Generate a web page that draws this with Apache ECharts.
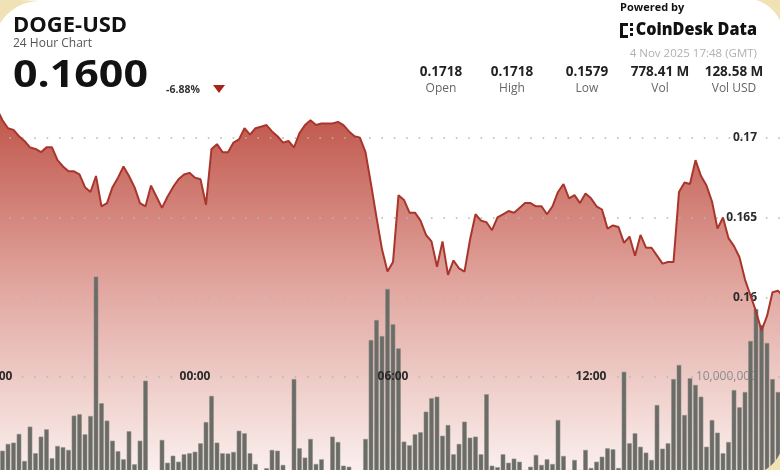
<!DOCTYPE html>
<html><head><meta charset="utf-8">
<script src="https://cdn.jsdelivr.net/npm/echarts@6/dist/echarts.min.js"></script>
<style>html,body{margin:0;padding:0;background:#fff}#c{width:780px;height:470px}</style>
</head><body><div id="c"></div>
<script>
// ---- data ----
const tickLabels = ['18:00', '00:00', '06:00', '12:00', '18:00'];
const STEP_MIN = 10; // one sample every 10 minutes, starting 18:00 (3 Nov 2025)
const prices = [
0.1718,0.1711,0.1706,0.1705,0.1701,0.1698,0.1694,0.1693,0.1691,0.1694,
0.1694,0.1686,0.1682,0.1679,0.1679,0.1677,0.1669,0.1666,0.1676,0.1657,
0.1659,0.1669,0.1675,0.1682,0.1676,0.1669,0.1659,0.1657,0.1670,0.1663,
0.1656,0.1663,0.1669,0.1674,0.1677,0.1678,0.1675,0.1674,0.1658,0.1693,
0.1696,0.1691,0.1691,0.1697,0.1699,0.1706,0.1702,0.1706,0.1707,0.1708,
0.1704,0.1701,0.1697,0.1698,0.1694,0.1703,0.1708,0.1711,0.1708,0.1709,
0.1709,0.1709,0.1710,0.1708,0.1704,0.1701,0.1700,0.1691,0.1671,0.1650,
0.1630,0.1616,0.1622,0.1664,0.1661,0.1653,0.1653,0.1648,0.1639,0.1635,
0.1619,0.1635,0.1614,0.1623,0.1618,0.1616,0.1636,0.1652,0.1648,0.1647,
0.1642,0.1650,0.1652,0.1654,0.1653,0.1656,0.1659,0.1659,0.1657,0.1657,
0.1652,0.1657,0.1666,0.1671,0.1662,0.1664,0.1659,0.1665,0.1662,0.1657,
0.1655,0.1643,0.1645,0.1644,0.1634,0.1638,0.1626,0.1639,0.1631,0.1631,
0.1626,0.1621,0.1622,0.1622,0.1666,0.1672,0.1671,0.1686,0.1676,0.1670,
0.1660,0.1643,0.1650,0.1637,0.1632,0.1625,0.1611,0.1601,0.1591,0.1579,
0.1588,0.1603,0.1604,0.1600
];
// volume per 10-minute bar, in millions of DOGE
const volumesM = [
2.89,4.24,4.77,4.87,5.55,3.44,6.12,4.04,5.34,5.91,
3.65,4.61,4.51,4.30,6.98,7.09,5.52,6.95,17.84,7.95,
6.59,5.02,4.20,3.57,5.76,3.18,5.02,9.71,2.45,2.52,
5.08,3.30,3.85,3.38,3.96,4.04,4.16,4.82,6.48,8.52,
4.87,4.04,4.02,4.14,5.80,5.60,4.04,3.20,2.55,2.87,
4.30,4.24,3.13,2.50,9.84,4.43,3.70,5.16,3.20,3.57,
2.48,5.34,4.92,3.07,2.99,2.53,2.44,5.16,12.89,14.45,
13.20,16.88,14.12,12.24,4.95,4.66,5.52,5.68,7.29,8.34,
8.46,5.41,6.25,3.96,4.77,6.51,5.26,5.34,3.96,8.65,
3.07,2.95,3.96,3.30,3.62,3.38,2.73,2.99,3.91,3.13,
3.57,3.20,6.64,3.83,2.73,3.52,2.73,4.30,2.89,3.38,
3.77,4.43,4.35,2.89,10.41,4.82,5.60,4.55,4.09,3.52,
7.81,4.40,4.82,9.84,10.94,7.03,9.90,9.38,8.46,4.55,
6.64,5.65,4.04,4.92,8.98,7.63,8.83,12.81,15.31,14.06,
12.66,9.84,8.83
];
const priceLabelTicks = [0.16, 0.165, 0.17];
const volumeLabelTicks = [10];
const statValues = ['0.1718', '0.1718', '0.1579', '778.41 M', '128.58 M'];
const statNames = ['Open', 'High', 'Low', 'Vol', 'Vol USD'];
const symbolName = 'DOGE-USD';
const lastPrice = '0.1600';
const changeText = '-6.88%';
const stampText = '4 Nov 2025 17:48 (GMT)';

// ---- build ----
const priceData = prices.map((p, i) => [i * STEP_MIN, p]);
const volData = volumesM.map((v, i) => [i * STEP_MIN, v]);
const F = "'Open Sans', sans-serif";
const GL = -3, GR = -9; // x-axis spans past both edges (chart is cropped)

function T(text, x, y, size, weight, fill, align, extra) {
  return Object.assign({ type: 'text', z: 50, style: { text, x, y, fontSize: size, fontWeight: weight, fontFamily: F, fill, align: align || 'left', verticalAlign: 'middle' } }, extra || {});
}
// decorative card corner: region between a rounded corner arc and the canvas corner
function corner(cx, cy, r, a0, a1, px, py) {
  const pts = [[px, py]];
  for (let i = 0; i <= 16; i++) {
    const a = (a0 + (a1 - a0) * i / 16) * Math.PI / 180;
    pts.push([cx + r * Math.cos(a), cy + r * Math.sin(a)]);
  }
  return { type: 'polygon', z: 60, silent: true, shape: { points: pts }, style: { fill: '#f1e2b6' } };
}
const statX = [441, 512, 587, 660, 734];
const graphics = [
  T(symbolName, 13, 26, 22, 'bold', '#121212'),
  T('24 Hour Chart', 13, 44, 12, 'normal', '#555'),
  T(lastPrice, 13, 76, 37, 'bold', '#121212', 'left', { scaleX: 1.16, originX: 13, originY: 76 }),
  T(changeText, 166, 90, 10.5, 'bold', '#333'),
  { type: 'polygon', z: 50, shape: { points: [[213, 85], [225, 85], [219, 93]] }, style: { fill: '#a8231b' } },
  T('Powered by', 620, 8, 11, 'bold', '#111'),
  T('CoinDesk Data', 757, 30.5, 17, 800, '#111', 'right', { scaleX: 0.95, originX: 757, originY: 30 }),
  T(stampText, 757, 54, 11.5, 'normal', '#b0b0b0', 'right'),
  // logo mark
  { type: 'rect', z: 50, shape: { x: 620, y: 23, width: 3, height: 15 }, style: { fill: '#111' } },
  { type: 'rect', z: 50, shape: { x: 620, y: 23, width: 8, height: 3 }, style: { fill: '#111' } },
  { type: 'rect', z: 50, shape: { x: 620, y: 35, width: 8, height: 3 }, style: { fill: '#111' } },
  { type: 'rect', z: 50, shape: { x: 630, y: 23, width: 3, height: 3 }, style: { fill: '#111' } },
  { type: 'rect', z: 50, shape: { x: 630, y: 28, width: 3, height: 3 }, style: { fill: '#111' } },
  { type: 'rect', z: 50, shape: { x: 630, y: 33, width: 3, height: 3 }, style: { fill: '#111' } },
  // card corners
  corner(40, 48, 47, 180, 270, -1, -1),
  corner(744, 38, 40, 270, 360, 781, -1),
  corner(744, 436, 40, 0, 90, 781, 471)
];
statValues.forEach((v, i) => {
  graphics.push(T(v, statX[i], 72, 13.5, 'bold', '#222', 'center'));
  graphics.push(T(statNames[i], statX[i], 89, 12, 'normal', '#666', 'center'));
});

const xBase = { type: 'value', min: 0, max: 1440, interval: 360 };
const gridBase = { left: GL, right: GR, containLabel: false, outerBoundsMode: 'none' };
const option = {
  backgroundColor: '#ffffff',
  animation: false,
  grid: [
    Object.assign({ top: 98, height: 438 }, gridBase),   // price area
    Object.assign({ top: 121, height: 384 }, gridBase),  // volume
    Object.assign({ top: 138, height: 239 }, gridBase)   // gridlines + labels
  ],
  xAxis: [
    Object.assign({ gridIndex: 0, show: false }, xBase),
    Object.assign({ gridIndex: 1, show: false }, xBase),
    Object.assign({ gridIndex: 2, z: 10, axisLine: { show: false }, axisTick: { show: false }, splitLine: { show: false },
      axisLabel: { showMaxLabel: false, margin: 0, verticalAlign: 'middle', fontFamily: F, fontSize: 12, fontWeight: 'bold', color: '#2a2a2a',
        formatter: v => tickLabels[Math.round(v / 360)] } }, xBase)
  ],
  yAxis: [
    { gridIndex: 0, type: 'value', min: 0.145, max: 0.1725, show: false },
    { gridIndex: 1, type: 'value', min: 0, max: 30, interval: 10, position: 'right', z: 1.5,
      axisLine: { show: false }, axisTick: { show: false }, splitLine: { show: false },
      axisLabel: { inside: true, margin: 32, fontFamily: F, fontSize: 12, color: '#8d8d8d',
        formatter: v => volumeLabelTicks.includes(v) ? (v * 1e6).toLocaleString('en-US') : '' } },
    { gridIndex: 2, type: 'value', min: 0.155, max: 0.17, interval: 0.005, position: 'right', z: 1.5,
      axisLine: { show: false }, axisTick: { show: false },
      splitLine: { show: true, lineStyle: { color: '#b5b5b5', width: 1.6, type: [1.6, 10.8] } },
      axisLabel: { inside: true, margin: 32, fontFamily: F, fontSize: 12, fontWeight: 'bold', color: '#2a2a2a',
        formatter: v => { const r = +v.toFixed(4); return priceLabelTicks.some(t => Math.abs(t - r) < 1e-6) ? String(r) : ''; } } }
  ],
  series: [
    { type: 'line', xAxisIndex: 0, yAxisIndex: 0, data: priceData, symbol: 'none', z: 1, silent: true,
      lineStyle: { width: 0 },
      areaStyle: { origin: 'start', opacity: 1,
        color: { type: 'linear', x: 0, y: 110, x2: 0, y2: 475, global: true,
          colorStops: [{ offset: 0, color: '#c0554a' }, { offset: 0.5, color: '#e2a9a2' }, { offset: 1, color: '#fbf1ef' }] } } },
    { type: 'bar', xAxisIndex: 1, yAxisIndex: 1, data: volData, barWidth: 4.6, z: 2, silent: true,
      itemStyle: { color: '#6a6c65', borderColor: '#8e8f89', borderWidth: 0.6 } },
    { type: 'line', xAxisIndex: 0, yAxisIndex: 0, data: priceData, symbol: 'none', z: 3, silent: true,
      lineStyle: { color: '#a8362c', width: 2 } }
  ],
  graphic: graphics
};
const chart = echarts.init(document.getElementById('c'), null, { renderer: 'canvas' });
chart.setOption(option);
</script>
</body></html>
